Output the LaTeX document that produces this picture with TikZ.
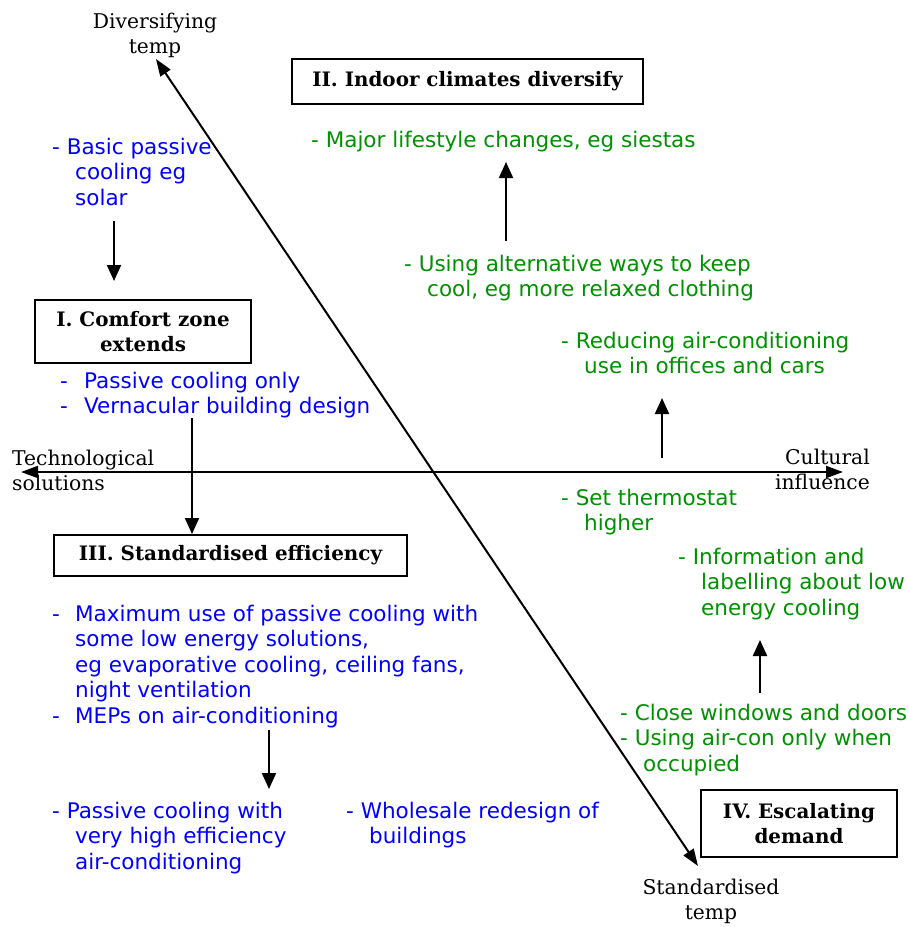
\documentclass[tikz,border=0pt]{standalone}
\usepackage{fontspec}
\setmainfont{DejaVu Serif}
\newfontfamily\vsans{DejaVu Sans}
\usetikzlibrary{arrows.meta}
\definecolor{gtext}{RGB}{0,145,0}
\definecolor{btext}{RGB}{0,0,255}
\newcommand{\dsh}[1]{\makebox[#1][l]{-}}
\newcommand{\ind}{\hspace*{23pt}}
\begin{document}
\begin{tikzpicture}[x=1pt,y=-1pt,
  txt/.style={font=\vsans\fontsize{21.5}{25.5}\selectfont, align=left, anchor=north west, inner sep=0pt},
  gtx/.style={txt, text=gtext},
  btx/.style={txt, text=btext},
  axlabel/.style={font=\fontsize{20.3}{25.5}\selectfont, inner sep=0pt},
  qbox/.style={draw, line width=2pt, font=\bfseries\fontsize{19.9}{25}\selectfont, align=center, inner sep=0pt},
  arr/.style={line width=2pt, -{Triangle[length=16pt,width=14pt]}},
  dbl/.style={line width=2pt, {Triangle[length=17pt,width=12pt]}-{Triangle[length=17pt,width=12pt]}}
]
\useasboundingbox (0,0) rectangle (908,927);

% boxes
\node[qbox, minimum width=351pt, minimum height=45pt] (II) at (467.5,81.5) {II. Indoor climates diversify};
\node[qbox, minimum width=216pt, minimum height=63pt] (I) at (143,331.5) {I. Comfort zone\\extends};
\node[qbox, minimum width=353pt, minimum height=41pt] (III) at (230.5,555.5) {III. Standardised efficiency};
\node[qbox, minimum width=196pt, minimum height=67pt] (IV) at (799,823.5) {IV. Escalating\\demand};

% axis labels
\node[axlabel, anchor=north, align=center] (divers) at (155,10) {\strut Diversifying\\temp};
\node[axlabel, anchor=north west, align=left] (tech) at (12,447) {\strut Technological\\solutions};
\node[axlabel, anchor=north east, align=right] (cult) at (870,446) {\strut Cultural\\influence};
\node[axlabel, anchor=north, align=center] (stand) at (711,876) {\strut Standardised\\temp};

% axes
\coordinate (axL) at (21,472);
\coordinate (axR) at (843,472);
\draw[dbl] (axL) -- (axR);
\coordinate (dTop) at (156,59);
\coordinate (dBot) at (698,866);
\draw[dbl] (dTop) -- (dBot);

% blue texts
\node[btx] (basic) at (52,136) {\strut - Basic passive\\\ind cooling eg\\\ind solar};
\node[btx] (pconly) at (60,370) {\strut\dsh{24pt}Passive cooling only\\\dsh{24pt}Vernacular building design};
\node[btx] (maxuse) at (52,603) {\strut\dsh{23pt}Maximum use of passive cooling with\\\ind some low energy solutions,\\\ind eg evaporative cooling, ceiling fans,\\\ind night ventilation\\\dsh{23pt}MEPs on air-conditioning};
\node[btx] (pcwith) at (52,800) {\strut - Passive cooling with\\\ind very high efficiency\\\ind air-conditioning};
\node[btx] (whole) at (346,800) {\strut - Wholesale redesign of\\\ind buildings};

% green texts
\node[gtx] (major) at (311,129) {\strut - Major lifestyle changes, eg siestas};
\node[gtx] (alt) at (404,253) {\strut - Using alternative ways to keep\\\ind cool, eg more relaxed clothing};
\node[gtx] (reduce) at (561,330) {\strut - Reducing air-conditioning\\\ind use in offices and cars};
\node[gtx] (thermo) at (561,487) {\strut - Set thermostat\\\ind higher};
\node[gtx] (info) at (678,546) {\strut - Information and\\\ind labelling about low\\\ind energy cooling};
\node[gtx] (close) at (620,702) {\strut - Close windows and doors\\- Using air-con only when\\\ind occupied};

% small arrows
\coordinate (a1s) at (114,221); \coordinate (a1e) at (114,281);
\draw[arr] (a1s) -- (a1e);
\coordinate (a2s) at (506,241); \coordinate (a2e) at (506,162);
\draw[arr] (a2s) -- (a2e);
\coordinate (a3s) at (662,458); \coordinate (a3e) at (662,398);
\draw[arr] (a3s) -- (a3e);
\coordinate (a4s) at (760,693); \coordinate (a4e) at (760,640);
\draw[arr] (a4s) -- (a4e);
\coordinate (a5s) at (192,418);
\draw[arr] (a5s) -- (a5s |- III.north);
\coordinate (a6s) at (269,730); \coordinate (a6e) at (269,789);
\draw[arr] (a6s) -- (a6e);
\end{tikzpicture}
\end{document}
